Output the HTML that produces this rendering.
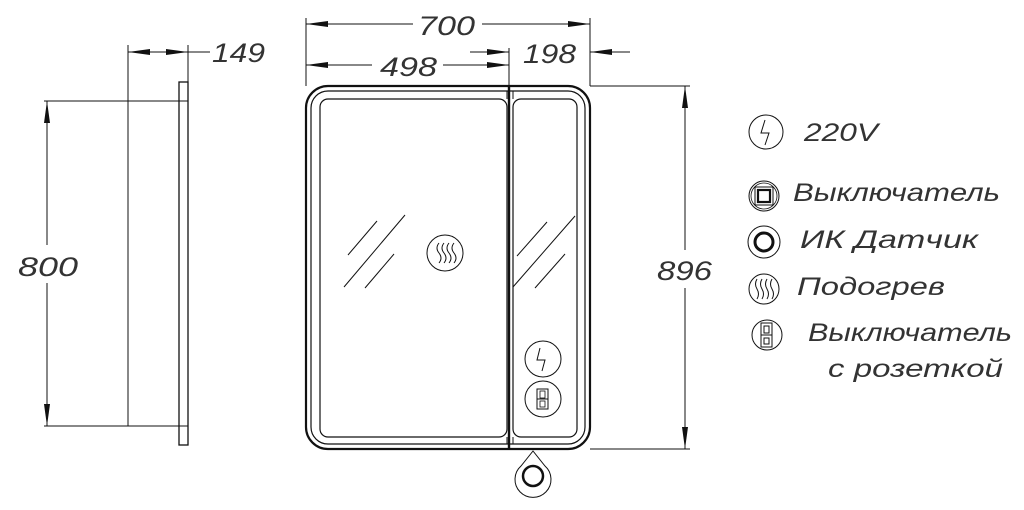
<!DOCTYPE html>
<html><head><style>body{margin:0;background:#fff}svg{display:block}text{font-family:"Liberation Sans",sans-serif;font-style:italic;fill:#333}</style></head><body>
<svg width="1024" height="510" viewBox="0 0 1024 510" xmlns="http://www.w3.org/2000/svg" fill="none" stroke="#111">
<defs><marker id="a" markerWidth="22" markerHeight="8" refX="22" refY="4" orient="auto" markerUnits="userSpaceOnUse"><path d="M0,1 L22,4 L0,7z" fill="#111" stroke="none"/></marker>
<marker id="b" markerWidth="22" markerHeight="8" refX="0" refY="4" orient="auto" markerUnits="userSpaceOnUse"><path d="M22,1 L0,4 L22,7z" fill="#111" stroke="none"/></marker></defs>
<!-- side view -->
<rect x="179" y="82" width="9" height="363" stroke-width="1.3"/>
<line x1="128" y1="45" x2="128" y2="426" stroke-width="1"/>
<line x1="188" y1="45" x2="188" y2="82" stroke-width="1"/>
<line x1="128" y1="52" x2="188" y2="52" marker-start="url(#b)" marker-end="url(#a)" stroke-width="1"/>
<line x1="188" y1="52" x2="210" y2="52" stroke-width="1"/>
<text x="212" y="62" font-size="27" stroke="none" textLength="53" lengthAdjust="spacingAndGlyphs">149</text>
<line x1="44" y1="101" x2="188" y2="101" stroke-width="1"/>
<line x1="44" y1="426" x2="188" y2="426" stroke-width="1"/>
<line x1="47" y1="101" x2="47" y2="245" marker-start="url(#b)" stroke-width="1"/>
<line x1="47" y1="283" x2="47" y2="426" marker-end="url(#a)" stroke-width="1"/>
<text x="18" y="276" font-size="27" stroke="none" textLength="60" lengthAdjust="spacingAndGlyphs">800</text>
<!-- front -->
<line x1="306" y1="18" x2="306" y2="86" stroke-width="1"/>
<line x1="590" y1="18" x2="590" y2="86" stroke-width="1"/>
<line x1="509" y1="48" x2="509" y2="86" stroke-width="1"/>
<line x1="306" y1="24" x2="413" y2="24" marker-start="url(#b)" stroke-width="1"/>
<line x1="482" y1="24" x2="590" y2="24" marker-end="url(#a)" stroke-width="1"/>
<text x="418" y="35" font-size="27" stroke="none" textLength="57" lengthAdjust="spacingAndGlyphs">700</text>
<line x1="306" y1="65" x2="372" y2="65" marker-start="url(#b)" stroke-width="1"/>
<line x1="443" y1="65" x2="509" y2="65" marker-end="url(#a)" stroke-width="1"/>
<text x="380" y="76" font-size="27" stroke="none" textLength="57" lengthAdjust="spacingAndGlyphs">498</text>
<line x1="470" y1="52" x2="509" y2="52" marker-end="url(#a)" stroke-width="1"/>
<line x1="590" y1="52" x2="630" y2="52" marker-start="url(#b)" stroke-width="1"/>
<text x="523" y="63" font-size="27" stroke="none" textLength="53" lengthAdjust="spacingAndGlyphs">198</text>
<line x1="590" y1="86" x2="690" y2="86" stroke-width="1"/>
<line x1="590" y1="449" x2="690" y2="449" stroke-width="1"/>
<line x1="685" y1="86" x2="685" y2="250" marker-start="url(#b)" stroke-width="1"/>
<line x1="685" y1="288" x2="685" y2="449" marker-end="url(#a)" stroke-width="1"/>
<text x="657" y="280" font-size="27" stroke="none" textLength="55" lengthAdjust="spacingAndGlyphs">896</text>
<rect x="306" y="86" width="284" height="363" rx="22" stroke-width="2.2"/>
<rect x="311" y="91" width="274" height="353" rx="17" stroke-width="1.2"/>
<rect x="320" y="99" width="187" height="338" rx="8" stroke-width="1.2"/>
<rect x="513" y="99" width="64" height="338" rx="8" stroke-width="1.2"/>
<line x1="507" y1="91" x2="507" y2="99" stroke-width="1"/><line x1="513" y1="91" x2="513" y2="99" stroke-width="1"/>
<line x1="507" y1="437" x2="507" y2="444" stroke-width="1"/><line x1="513" y1="437" x2="513" y2="444" stroke-width="1"/>
<line x1="509" y1="86" x2="509" y2="449" stroke-width="2.4"/>
<g stroke-width="1"><line x1="348" y1="255" x2="377" y2="221"/><line x1="344" y1="287" x2="405" y2="215"/><line x1="365" y1="288" x2="394" y2="254"/>
<line x1="517" y1="256" x2="547" y2="222"/><line x1="513" y1="287" x2="575" y2="216"/><line x1="535" y1="288" x2="565" y2="254"/></g>
<circle cx="445" cy="253" r="18" stroke-width="1"/>
<path d="M439,243 q-4,5 0,10 q4,5 0,10 M444,243 q-4,5 0,10 q4,5 0,10 M449,243 q-4,5 0,10 q4,5 0,10 M454,243 q-4,5 0,10 q4,5 0,10" stroke-width="1"/>
<circle cx="543" cy="359" r="18" stroke-width="1"/>
<path d="M540,348 l-3,12 h8 l-3,11" stroke-width="1"/>
<circle cx="543" cy="399" r="18" stroke-width="1"/>
<rect x="537" y="389" width="11" height="20" stroke-width="1"/><line x1="537" y1="399" x2="548" y2="399"/><rect x="540" y="391" width="5" height="7" stroke-width="0.8"/><rect x="540" y="401" width="5" height="6" stroke-width="0.8"/>
<path d="M533,451 L521,466 A18,18 0 1,0 545,466 Z" stroke-width="1"/>
<circle cx="533" cy="476" r="10" stroke-width="2.5"/>
<!-- legend -->
<circle cx="766" cy="132" r="17" stroke-width="1"/>
<path d="M765,120 l-4,13 h8 l-4,12" stroke-width="1"/>
<text x="804" y="141" font-size="25" stroke="none" textLength="74" lengthAdjust="spacingAndGlyphs">220V</text>
<circle cx="764" cy="196" r="15" stroke-width="1"/><circle cx="764" cy="196" r="13" stroke-width="0.8"/>
<rect x="755" y="187" width="18" height="18" stroke-width="1"/><rect x="758" y="190" width="12" height="12" stroke-width="2.2"/>
<text x="793" y="201" font-size="25" stroke="none" textLength="207" lengthAdjust="spacingAndGlyphs">Выключатель</text>
<circle cx="764" cy="242" r="16" stroke-width="1"/><circle cx="764" cy="242" r="9" stroke-width="3"/>
<text x="800" y="248" font-size="25" stroke="none" textLength="178" lengthAdjust="spacingAndGlyphs">ИК  Датчик</text>
<circle cx="764" cy="289" r="15" stroke-width="1"/>
<path d="M757,279 q-3,5 0,10 q3,5 0,10 M762,279 q-3,5 0,10 q3,5 0,10 M767,279 q-3,5 0,10 q3,5 0,10 M772,279 q-3,5 0,10 q3,5 0,10" stroke-width="1"/>
<text x="797" y="295" font-size="25" stroke="none" textLength="148" lengthAdjust="spacingAndGlyphs">Подогрев</text>
<circle cx="767" cy="335" r="15" stroke-width="1"/>
<rect x="761" y="323" width="11" height="24" stroke-width="1"/><line x1="761" y1="335" x2="772" y2="335"/><rect x="764" y="326" width="5" height="7" stroke-width="1"/><rect x="764" y="338" width="5" height="6" stroke-width="1"/>
<text x="808" y="341" font-size="25" stroke="none" textLength="204" lengthAdjust="spacingAndGlyphs">Выключатель</text>
<text x="828" y="377" font-size="25" stroke="none" textLength="175" lengthAdjust="spacingAndGlyphs">с  розеткой</text>
</svg>
</body></html>
